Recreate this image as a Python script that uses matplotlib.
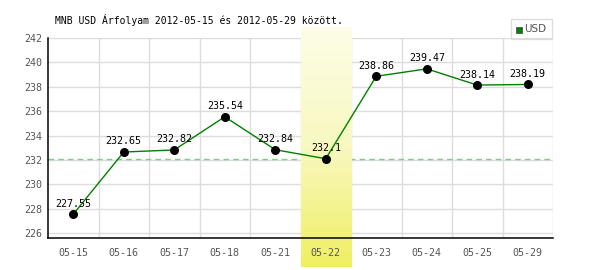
import matplotlib
matplotlib.use("Agg")
import matplotlib.pyplot as plt
import numpy as np
from matplotlib.colors import LinearSegmentedColormap

# Data
dates = ["05-15", "05-16", "05-17", "05-18", "05-21",
         "05-22", "05-23", "05-24", "05-25", "05-29"]
rates = [227.55, 232.65, 232.82, 235.54, 232.84,
         232.1, 238.86, 239.47, 238.14, 238.19]
rate_labels = ["227.55", "232.65", "232.82", "235.54", "232.84",
               "232.1", "238.86", "239.47", "238.14", "238.19"]
highlight_idx = 5
y_ticks = [226, 228, 230, 232, 234, 236, 238, 240, 242]
title = "MNB USD Árfolyam 2012-05-15 és 2012-05-29 között."
currency = "USD"

plt.rcParams['font.family'] = ['DejaVu Sans Mono', 'DejaVu Sans']

fig = plt.figure(figsize=(6, 2.7), dpi=100)
ax = fig.add_axes([48 / 600, 1 - 238 / 270, 505 / 600, 200 / 270])

x = np.arange(len(dates))
ymin, ymax = 225.6, 242.0

# grid
for v in y_ticks:
    ax.axhline(v, color="#dcdcdc", lw=1, zorder=1)
for i in range(len(dates)):
    ax.axvline(i + 0.5, color="#dcdcdc", lw=1, zorder=1)

# reference line at highlighted day value
ax.axhline(rates[highlight_idx], color="#7fd07f", lw=1, ls=(0, (4, 3)), zorder=2)

# highlighted day: vertical yellow gradient band reaching below the axis
px = (ymax - ymin) / 200.0
band_top = ymax + 10 * px
band_bot = ymin - 29 * px
cmap = LinearSegmentedColormap.from_list("band", ["#fdfde8", "#f8f8c0", "#f0ef62"])
grad = np.linspace(0, 1, 256).reshape(-1, 1)
ax.imshow(grad, cmap=cmap, aspect='auto', origin='upper',
          extent=(highlight_idx - 0.5, highlight_idx + 0.5, band_bot, band_top),
          clip_on=False, zorder=2.5)
ax.set_xlim(-0.5, len(dates) - 0.5)
ax.set_ylim(ymin, ymax)

ax.plot(x, rates, color="#008000", lw=1, zorder=3)
ax.scatter(x, rates, s=30, color="black", zorder=4)
for xi, yi, lab in zip(x, rates, rate_labels):
    ax.annotate(lab, (xi, yi), xytext=(0, 4), textcoords="offset points",
                ha="center", va="bottom", fontsize=7.2, color="black", zorder=5)

ax.set_xticks(x)
ax.set_xticklabels(dates)
ax.set_yticks(y_ticks)
ax.tick_params(axis="both", length=0, labelsize=7.2, colors="#555555")
ax.tick_params(axis="x", pad=7)
ax.tick_params(axis="y", pad=4)
ax.xaxis.set_zorder(7)
ax.yaxis.set_zorder(7)

for s in ["top", "right"]:
    ax.spines[s].set_visible(False)
for s in ["left", "bottom"]:
    ax.spines[s].set_color("black")
    ax.spines[s].set_linewidth(1.1)
    ax.spines[s].set_zorder(6)

fig.text(55 / 600, 1 - 20 / 270, title, fontsize=7.0, color="black", va="center")

# legend box
fig.patches.append(plt.Rectangle((511 / 600, 1 - 39 / 270), 41 / 600, 20 / 270,
                                 transform=fig.transFigure, fill=False,
                                 edgecolor="#dcdcdc", lw=1))
fig.patches.append(plt.Rectangle((516 / 600, 1 - 33 / 270), 6 / 600, 6 / 270,
                                 transform=fig.transFigure, facecolor="#008000",
                                 edgecolor="#555555", lw=0.6))
fig.text(524 / 600, 1 - 29.5 / 270, currency, fontsize=7.5, color="#555555",
         family="DejaVu Sans", va="center")

fig.savefig("out.png", dpi=100)
